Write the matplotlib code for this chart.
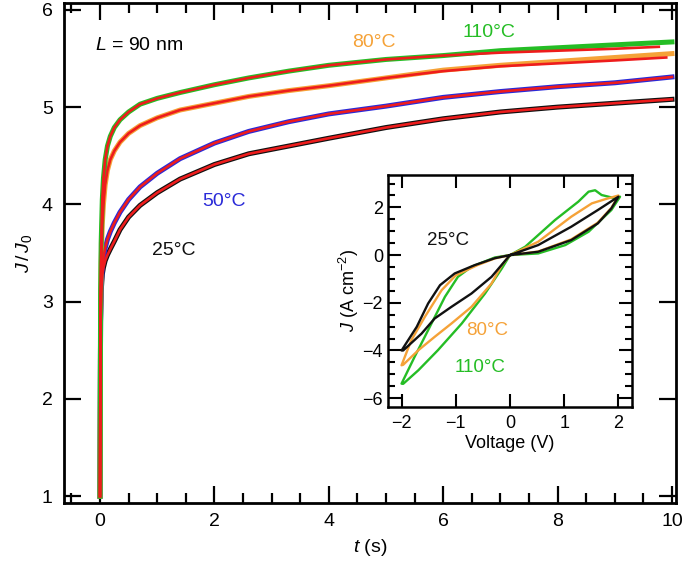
import matplotlib
matplotlib.use("Agg")
from matplotlib import pyplot as plt
from matplotlib.ticker import MultipleLocator

plt.rcParams['font.family'] = ['Liberation Sans', 'DejaVu Sans']
plt.rcParams['mathtext.fontset'] = 'custom'
plt.rcParams['mathtext.rm'] = 'Liberation Sans'
plt.rcParams['mathtext.it'] = 'Liberation Sans:italic'

# main panel: normalised current J/J0 vs time
t = [0, 0.01, 0.02, 0.04, 0.06, 0.09, 0.13, 0.18, 0.25, 0.35, 0.5, 0.7, 1.0, 1.4, 2.0, 2.6, 3.3, 4, 5, 6, 7, 8, 9, 10]
j_25 = [1.0, 2.8, 3.1, 3.28, 3.35, 3.42, 3.48, 3.54, 3.62, 3.74, 3.87, 3.99, 4.12, 4.26, 4.41, 4.52, 4.60, 4.68,
        4.79, 4.88, 4.95, 5.00, 5.04, 5.08]
j_50 = [1.0, 2.8, 3.15, 3.35, 3.45, 3.55, 3.64, 3.72, 3.81, 3.92, 4.05, 4.18, 4.32, 4.47, 4.63, 4.75, 4.85, 4.93,
        5.01, 5.10, 5.16, 5.21, 5.25, 5.31]
j_80 = [1.0, 2.9, 3.4, 3.8, 4.0, 4.2, 4.35, 4.46, 4.55, 4.64, 4.73, 4.81, 4.89, 4.97, 5.04, 5.11, 5.17, 5.22,
        5.30, 5.38, 5.43, 5.47, 5.51, 5.55]
j_110 = [1.0, 3.0, 3.6, 4.05, 4.27, 4.46, 4.60, 4.70, 4.79, 4.87, 4.95, 5.03, 5.09, 5.15, 5.23, 5.30, 5.37, 5.43,
         5.49, 5.53, 5.58, 5.61, 5.64, 5.67]

# fits (red lines); the 80 and 110 fits stop a little before 10 s
t_fit_80 = t[:-1] + [9.9]
fit_80 = j_80[:-5] + [5.37, 5.42, 5.45, 5.48, 5.51]
t_fit_110 = t[:-1] + [9.77]
fit_110 = j_110[:-5] + [5.53, 5.56, 5.58, 5.60, 5.62]

# inset: J-V loops
v_25 = [0, 0.52, 1.13, 1.62, 2.0, 1.87, 1.62, 1.13, 0.52, 0, -0.34, -0.71, -1.08, -1.39, -1.63, -1.97, -2.0,
        -1.72, -1.51, -1.29, -1.02, -0.65, -0.28, 0]
jv_25 = [0, 0.42, 1.19, 1.89, 2.45, 1.96, 1.33, 0.63, 0.14, 0, -0.91, -1.61, -2.17, -2.66, -3.29, -4.0, -4.0,
         -3.01, -2.03, -1.26, -0.77, -0.42, -0.13, 0]
v_80 = [0, 0.52, 1.13, 1.51, 1.75, 2.0, 1.87, 1.62, 1.13, 0.52, 0, -0.15, -0.34, -0.71, -1.08, -1.39, -1.69, -1.97,
        -2.0, -1.82, -1.57, -1.26, -1.0, -0.6, -0.28, 0]
jv_80 = [0, 0.56, 1.61, 2.17, 2.34, 2.5, 1.98, 1.36, 0.66, 0.15, 0, -0.42, -1.19, -2.17, -2.87, -3.43, -3.99, -4.6,
         -4.62, -3.57, -2.59, -1.47, -0.85, -0.42, -0.14, 0]
v_110 = [0, 0.28, 0.83, 1.26, 1.45, 1.57, 1.69, 1.94, 2.03, 1.87, 1.45, 1.02, 0.52, 0, -0.15, -0.46, -0.89, -1.33,
         -1.69, -1.97, -2.0, -1.76, -1.51, -1.2, -0.96, -0.71, -0.28, 0]
jv_110 = [0, 0.35, 1.47, 2.24, 2.66, 2.72, 2.52, 2.38, 2.45, 1.89, 0.98, 0.42, 0.07, 0, -0.56, -1.61, -2.87, -3.99,
          -4.83, -5.4, -5.39, -4.27, -3.15, -1.75, -0.91, -0.49, -0.1, 0]

black = '#111111'
blue = '#2a2ad8'
orange = '#f5a238'
green = '#25bd25'
red = '#ee1c1c'

fig = plt.figure(figsize=(6.85, 5.63), dpi=100)
ax = fig.add_axes([0.0934, 0.1066, 0.8934, 0.888])

ax.plot(t, j_25, color=black, lw=3.6)
ax.plot(t, j_50, color=blue, lw=3.6)
ax.plot(t, j_80, color=orange, lw=3.6)
ax.plot(t, j_110, color=green, lw=3.6)
ax.plot(t, j_25, color=red, lw=1.9)
ax.plot(t, j_50, color=red, lw=1.9)
ax.plot(t_fit_80, fit_80, color=red, lw=1.9)
ax.plot(t_fit_110, fit_110, color=red, lw=1.9)

ax.set_xlim(-0.63, 10.07)
ax.set_ylim(0.93, 6.07)
ax.xaxis.set_major_locator(MultipleLocator(2))
ax.xaxis.set_minor_locator(MultipleLocator(0.5))
ax.yaxis.set_major_locator(MultipleLocator(1))
ax.tick_params(which='both', direction='in', top=True, right=True, width=1.6, labelsize=14)
ax.tick_params(which='major', length=12)
ax.tick_params(which='minor', length=7)
ax.tick_params(axis='x', pad=7)
ax.tick_params(axis='y', pad=8)
for s in ax.spines.values():
    s.set_linewidth(2)

ax.set_xlabel(r'$t$ (s)', fontsize=14, labelpad=5)
ax.set_ylabel(r'$J\,$/$\,J_{\mathrm{0}}$', fontsize=14, labelpad=6)

ax.text(-0.09, 5.63, r'$L$ = 90 nm', fontsize=14, va='center', ha='left')
ax.text(4.78, 5.66, '80°C', color=orange, fontsize=14, va='center', ha='center')
ax.text(6.80, 5.77, '110°C', color=green, fontsize=14, va='center', ha='center')
ax.text(2.16, 4.03, '50°C', color=blue, fontsize=14, va='center', ha='center')
ax.text(1.29, 3.53, '25°C', color=black, fontsize=14, va='center', ha='center')

# inset
ins = fig.add_axes([0.5664, 0.2771, 0.3562, 0.4121])
ins.plot(v_110, jv_110, color=green, lw=1.7)
ins.plot(v_80, jv_80, color=orange, lw=1.7)
ins.plot(v_25, jv_25, color=black, lw=1.7)
ins.set_xlim(-2.25, 2.25)
ins.set_ylim(-6.37, 3.36)
ins.xaxis.set_major_locator(MultipleLocator(1))
ins.yaxis.set_major_locator(MultipleLocator(2))
ins.yaxis.set_minor_locator(MultipleLocator(0.5))
ins.tick_params(which='both', direction='in', top=True, right=True, width=1.5, labelsize=13)
ins.tick_params(which='major', length=9.5)
ins.tick_params(which='minor', length=5)
ins.tick_params(axis='x', pad=6)
for s in ins.spines.values():
    s.set_linewidth(1.8)
ins.set_xlabel('Voltage (V)', fontsize=13, labelpad=2)
ins.set_ylabel(r'$J$ (A cm$^{-2}$)', fontsize=13, labelpad=1)
ins.text(-1.14, 0.63, '25°C', color=black, fontsize=13.5, va='center', ha='center')
ins.text(-0.43, -3.15, '80°C', color=orange, fontsize=13.5, va='center', ha='center')
ins.text(-0.56, -4.7, '110°C', color=green, fontsize=13.5, va='center', ha='center')

fig.savefig('out.png', dpi=100)
